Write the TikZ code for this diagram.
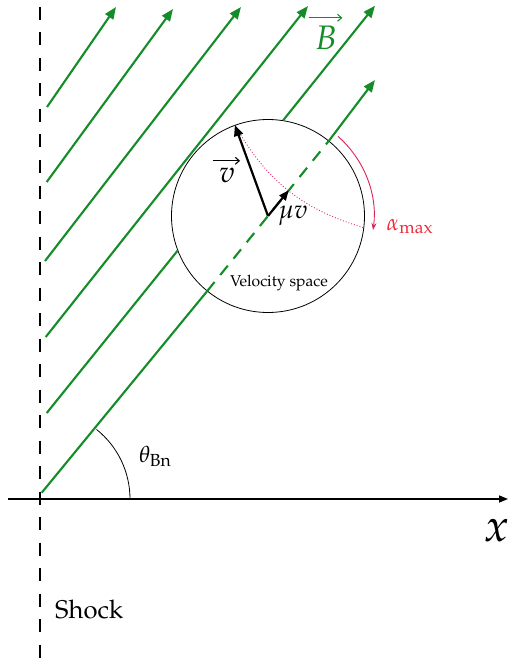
\documentclass[tikz,border=0pt]{standalone}
\usepackage[T1]{fontenc}
\usepackage{mathpazo}
\usetikzlibrary{arrows.meta}
\definecolor{bgreen}{RGB}{20,140,40}
\definecolor{arcred}{RGB}{220,35,85}
\definecolor{lblred}{RGB}{235,45,60}
\begin{document}
\begin{tikzpicture}[x=1pt,y=-1pt,
  fieldline/.style={bgreen, line width=2.1pt},
  fieldarrow/.style={fieldline, -{Triangle[length=12pt,width=9.5pt]}},
  vecarrow/.style={black, line width=2.2pt, -{Triangle[length=11pt,width=9pt]}},
  overarrow/.style={line width=1.1pt, -{Straight Barb[length=4pt,width=7pt]}},
  lbl/.style={inner sep=0pt, anchor=base}]
\useasboundingbox (0,0) rectangle (509,663);

% shock
\coordinate (s1) at (40,7);
\coordinate (s2) at (40,660);
\draw[line width=2pt, dash pattern=on 13pt off 12.5pt] (s1) -- (s2);
\node[inner sep=0pt, anchor=base west, font=\fontsize{25.6}{28}\selectfont] (shock) at (55,618) {Shock};

% x axis
\coordinate (xa) at (8,499);
\coordinate (xb) at (508,499);
\draw[line width=1.5pt, -{Triangle[length=9pt,width=7pt]}] (xa) -- (xb);
\node[lbl, font=\fontsize{46}{50}\selectfont] (xl) at (497,541.7) {$x$};

% angle theta_Bn
\coordinate (o) at (41,499);
\draw[line width=0.8pt] ([shift={(89pt,0pt)}]o) arc[start angle=0, end angle=51.4, radius=89pt];
\node[inner sep=0pt, anchor=base west, font=\fontsize{23}{26}\selectfont] (th) at (139,462) {$\theta_{\mathrm{Bn}}$};

% velocity space circle
\node[circle, draw, line width=0.8pt, minimum size=193pt, inner sep=0pt] (vs) at (268,216) {};
\node[lbl, font=\fontsize{15.7}{18}\selectfont] (vsl) at (279,286) {Velocity space};

% field lines
\coordinate (a1) at (47,107);   \coordinate (b1) at (116,7);
\coordinate (a2) at (46.7,182); \coordinate (b2) at (173,9);
\coordinate (a3) at (45,261);   \coordinate (b3) at (241,7);
\coordinate (a4) at (45.7,337); \coordinate (b4) at (308,6);
\coordinate (a5) at (46.7,413); \coordinate (b5) at (375,5.7);
\coordinate (a6) at (41.7,492.7); \coordinate (b6) at (375,80);
\draw[fieldarrow] (a1) -- (b1);
\draw[fieldarrow] (a2) -- (b2);
\draw[fieldarrow] (a3) -- (b3);
\draw[fieldarrow] (a4) -- (b4);
\draw[fieldline] (a5) -- (vs.201.9);
\draw[fieldarrow] (vs.81.4) -- (b5);
\draw[fieldline] (a6) -- (vs.231.1);
\draw[fieldline, dash pattern=on 12pt off 9pt] (vs.231.1) -- (vs.51.1);
\draw[fieldarrow] (vs.51.1) -- (b6);
\node[lbl, bgreen, font=\fontsize{34}{38}\selectfont] (bl) at (326,49.5) {$B$};
\draw[overarrow, bgreen] ([shift={(-6pt,8pt)}]bl.north west) -- ([shift={(5pt,8pt)}]bl.north east);

% alpha_max
\coordinate (vt) at (vs.110.5);
\coordinate (ce) at (vs.-7.9);
\draw[arcred, dotted, line width=0.9pt] (vt) to[bend right=22] (ce);
\draw[arcred, line width=0.9pt, -{Stealth[length=7pt,width=5pt]}] ([shift={(48.7:106pt)}]vs.center) arc[start angle=48.7, end angle=-7.6, radius=106pt];
\node[inner sep=0pt, anchor=base west, lblred, font=\fontsize{23}{26}\selectfont] (al) at (386.5,230) {$\alpha_{\mathrm{max}}$};

% vectors
\coordinate (mt) at ([shift={(51.1:33pt)}]vs.center);
\draw[vecarrow] (vs.center) -- (vt);
\draw[vecarrow, -{Triangle[length=10pt,width=8pt]}] (vs.center) -- (mt);
\node[lbl, font=\fontsize{30}{33}\selectfont] (vl) at (227,182.5) {$v$};
\draw[overarrow] ([shift={(-6pt,7pt)}]vl.north west) -- ([shift={(5pt,7pt)}]vl.north east);
\node[inner sep=0pt, anchor=base west, font=\fontsize{26}{30}\selectfont] (ml) at (278,218) {$\mu v$};
\end{tikzpicture}
\end{document}
